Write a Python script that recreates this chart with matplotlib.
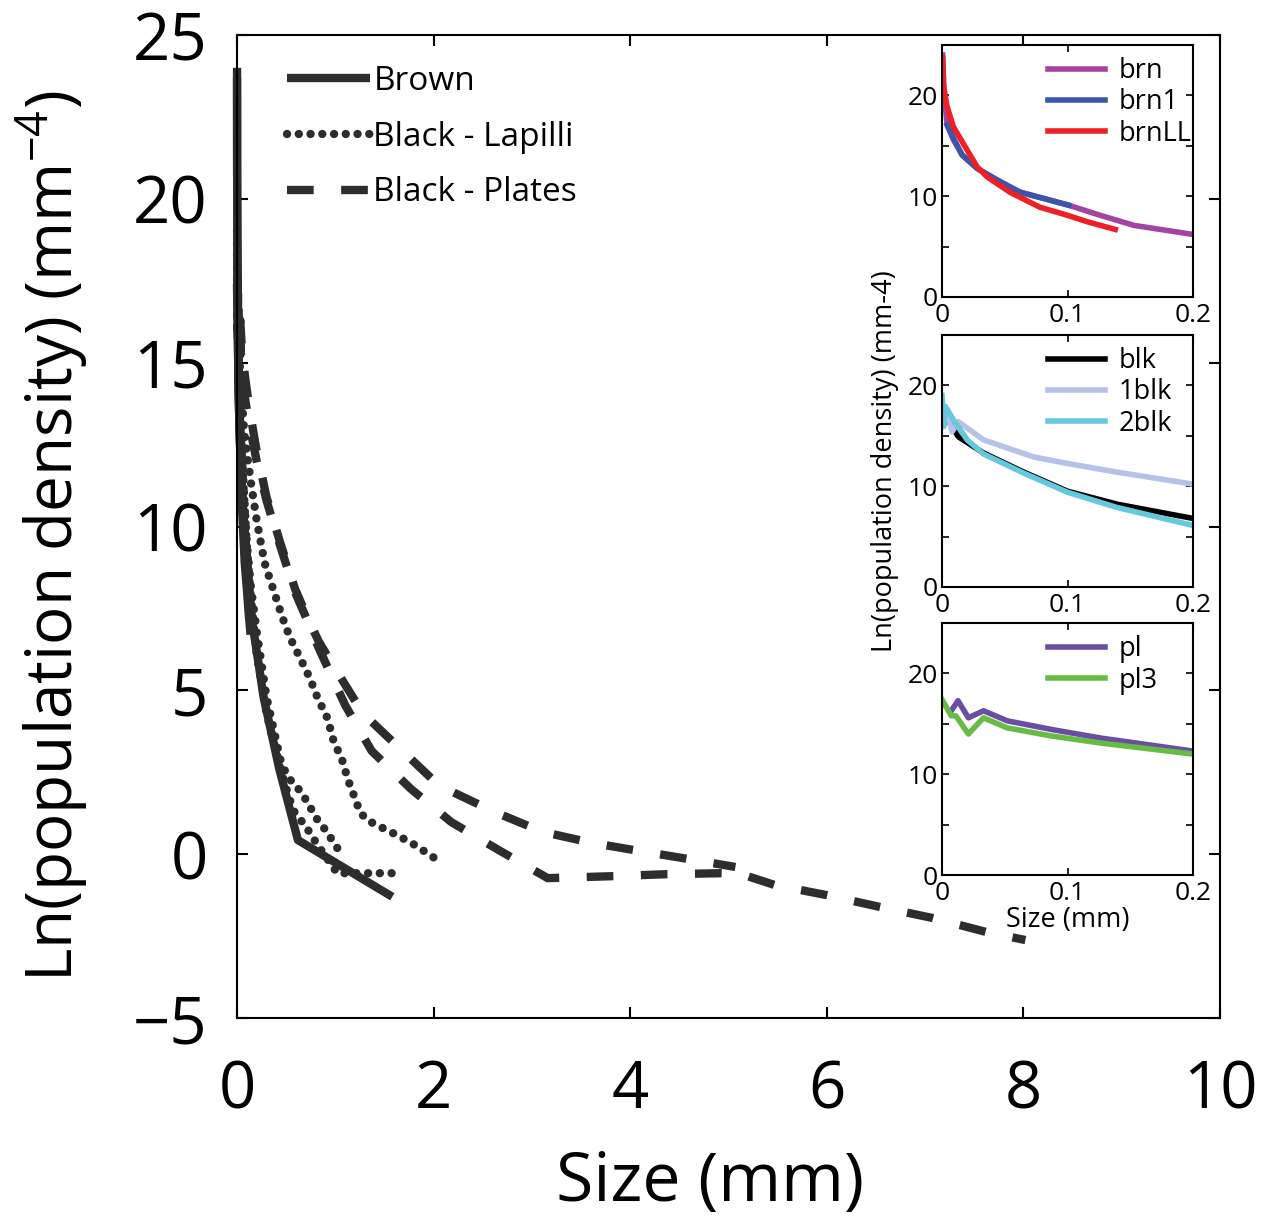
import matplotlib
matplotlib.use('Agg')
import matplotlib.pyplot as plt
import numpy as np

plt.rcParams['font.family'] = ['Open Sans', 'DejaVu Sans']

# ---- brown samples ----
brn_x = [0.0005, 0.0013, 0.004, 0.009, 0.016, 0.028, 0.044, 0.062, 0.081, 0.101, 0.126, 0.153, 0.2, 0.27, 0.43, 0.62, 1.58]
brn_y = [24.0, 20.9, 17.1, 15.6, 14.1, 12.75, 11.6, 10.4, 9.77, 9.1, 8.1, 7.1, 6.2, 4.8, 2.6, 0.43, -1.3]
brn1_x = [0.004, 0.016, 0.028, 0.044, 0.062, 0.081, 0.101]
brn1_y = [17.05, 14.07, 12.75, 11.6, 10.4, 9.77, 9.1]
brnLL_x = [0.0005, 0.0013, 0.004, 0.009, 0.017, 0.028, 0.036, 0.054, 0.078, 0.1, 0.116, 0.138]
brnLL_y = [23.7, 20.9, 18.9, 16.9, 15.2, 12.9, 11.9, 10.4, 8.9, 8.1, 7.45, 6.7]

# ---- black lapilli samples ----
blk_x = [0.001, 0.005, 0.013, 0.033, 0.065, 0.1, 0.14, 0.2, 0.3, 0.44, 0.51, 0.59, 0.66, 0.72, 0.82, 0.9, 1.02]
blk_y = [17.5, 16.5, 14.9, 13.3, 11.4, 9.5, 8.2, 6.8, 4.8, 2.9, 2.38, 2.11, 1.87, 1.56, 1.04, 0.74, 0.19]
blk1_x = [0.0013, 0.005, 0.008, 0.013, 0.033, 0.073, 0.1, 0.139, 0.2, 0.28, 0.46, 0.54, 0.64, 0.74, 0.82, 0.92,
          0.98, 1.07, 1.13, 1.2, 1.25, 1.32, 1.42, 1.63, 1.81, 2.01]
blk1_y = [17.9, 16.9, 15.4, 16.4, 14.6, 12.9, 12.25, 11.4, 10.2, 8.9, 7.24, 6.6, 6.0, 5.38, 4.77, 4.15,
          3.48, 2.87, 2.26, 1.71, 1.29, 1.05, 0.89, 0.58, 0.28, -0.12]
blk2_x = [0.0, 0.0013, 0.0027, 0.009, 0.02, 0.033, 0.065, 0.1, 0.139, 0.2, 0.3, 0.45, 0.57, 0.71, 0.82, 0.95, 1.02, 1.61]
blk2_y = [19.0, 15.9, 17.9, 16.6, 14.6, 13.2, 11.3, 9.4, 7.9, 6.1, 4.3, 2.5, 1.35, 0.8, 0.28, -0.27, -0.58, -0.58]

# ---- black plates samples ----
pl_x = [0.0074, 0.0127, 0.021, 0.033, 0.052, 0.087, 0.126, 0.2, 0.3, 0.43, 0.59, 0.72, 0.83, 0.95, 1.28,
        2.0, 2.15, 2.62, 3.11, 3.62, 4.15, 4.66, 5.07]
pl_y = [16.3, 17.3, 15.6, 16.3, 15.3, 14.45, 13.6, 12.3, 10.9, 9.6, 8.1, 7.2, 6.5, 5.9, 4.3,
        2.25, 1.96, 1.29, 0.68, 0.34, 0.07, -0.18, -0.39]
pl3_x = [0.0, 0.0074, 0.011, 0.021, 0.033, 0.052, 0.087, 0.126, 0.2, 0.3, 0.43, 0.59, 0.72, 0.83, 1.1, 1.37,
         1.77, 2.18, 2.66, 3.16, 3.83, 4.37, 4.93, 5.12, 5.47, 6.0, 6.54, 7.08, 7.63, 8.02]
pl3_y = [17.4, 15.8, 15.8, 14.0, 15.6, 14.6, 13.8, 13.1, 12.0, 10.8, 9.5, 8.0, 7.1, 6.3, 4.55, 3.15,
         1.99, 0.98, 0.13, -0.73, -0.67, -0.61, -0.58, -0.6, -0.94, -1.25, -1.61, -1.95, -2.38, -2.62]

main_xticks = [0, 2, 4, 6, 8, 10]
main_yticks = [-5, 0, 5, 10, 15, 20, 25]

gray = '#2d2d2d'
lw = 6
dots = (0, (0.01, 1.4))
dash = (0, (3.2, 3.3))
dash3 = (1.5, (3.2, 3.3))

fig = plt.figure(figsize=(12.66, 12.16), dpi=100)
ax = fig.add_axes([0.1872, 0.1628, 0.9637 - 0.1872, 0.9712 - 0.1628])

l1, = ax.plot(brn_x, brn_y, color=gray, lw=lw, solid_capstyle='butt', label='Brown', clip_on=False)
ax.plot(brn1_x, brn1_y, color=gray, lw=lw, solid_capstyle='butt', clip_on=False)
ax.plot(brnLL_x, brnLL_y, color=gray, lw=lw, solid_capstyle='butt', clip_on=False)
l2, = ax.plot(blk_x, blk_y, color=gray, lw=lw, linestyle=dots, dash_capstyle='round', label='Black - Lapilli')
ax.plot(blk1_x, blk1_y, color=gray, lw=lw, linestyle=dots, dash_capstyle='round')
ax.plot(blk2_x, blk2_y, color=gray, lw=lw, linestyle=dots, dash_capstyle='round', clip_on=False)
l3, = ax.plot(pl_x, pl_y, color=gray, lw=lw, linestyle=dash, dash_capstyle='butt', label='Black - Plates')
ax.plot(pl3_x, pl3_y, color=gray, lw=lw, linestyle=dash3, dash_capstyle='butt', clip_on=False)

ax.set_xlim(0, 10)
ax.set_ylim(-5, 25)
ax.set_xticks(main_xticks)
ax.set_yticks(main_yticks)
ax.set_yticklabels(['\u22125' if t < 0 else str(t) for t in main_yticks])
ax.tick_params(direction='in', length=8, width=1.5, top=True, right=True, labelsize=47)
ax.tick_params(axis='x', pad=29)
ax.tick_params(axis='y', pad=21)
for s in ax.spines.values():
    s.set_linewidth(1.5)
ax.set_xlabel('Size (mm)', fontsize=49, labelpad=18)
ax.xaxis.label.set_x(0.481)
ax.set_ylabel('Ln(population density) (mm$^{\\mathregular{-4}}$)', fontsize=46, labelpad=30)
ax.yaxis.label.set_y(0.49)

ax.legend(handles=[l1, l2, l3], loc='upper left', bbox_to_anchor=(0.02, 1.0), frameon=False,
          fontsize=24, handlelength=2.5, handletextpad=0.1, labelspacing=0.68)

# ---- insets ----
inset_pos = [[0.7441, 0.7558, 0.1983, 0.2072],
             [0.7441, 0.5173, 0.1983, 0.2072],
             [0.7441, 0.2804, 0.1983, 0.2072]]
inset_data = [
    [(brn_x, brn_y, '#a344a3', 'brn'), (brn1_x, brn1_y, '#3a56aa', 'brn1'), (brnLL_x, brnLL_y, '#ee2026', 'brnLL')],
    [(blk_x, blk_y, '#000000', 'blk'), (blk1_x, blk1_y, '#b5c1e6', '1blk'), (blk2_x, blk2_y, '#65c8dc', '2blk')],
    [(pl_x, pl_y, '#6a4ea3', 'pl'), (pl3_x, pl3_y, '#68bb45', 'pl3')],
]

for pos, series in zip(inset_pos, inset_data):
    a = fig.add_axes(pos)
    for x, y, c, name in series:
        a.plot(x, y, color=c, lw=4.0, label=name)
    a.set_xlim(0, 0.2)
    a.set_ylim(0, 25)
    a.set_xticks([0, 0.1, 0.2])
    a.set_xticklabels(['0', '0.1', '0.2'])
    a.set_yticks([0, 5, 10, 15, 20, 25])
    a.set_yticklabels(['0', '', '10', '', '20', ''])
    a.tick_params(direction='in', length=5, width=1.2, top=True, right=True, labelsize=19)
    a.tick_params(axis='x', pad=4)
    a.tick_params(axis='y', pad=3)
    for s in a.spines.values():
        s.set_linewidth(1.5)
    a.legend(loc='upper left', bbox_to_anchor=(0.375, 1.0), frameon=False, fontsize=19.5,
             handlelength=2.1, handletextpad=0.5, labelspacing=0.12, borderaxespad=0.05)
    last = a

last.set_xlabel('Size (mm)', fontsize=19.5, labelpad=0)
fig.text(0.699, 0.621, 'Ln(population density) (mm-4)', rotation=90, fontsize=19.5, ha='center', va='center')

fig.savefig('out.png', dpi=100)
